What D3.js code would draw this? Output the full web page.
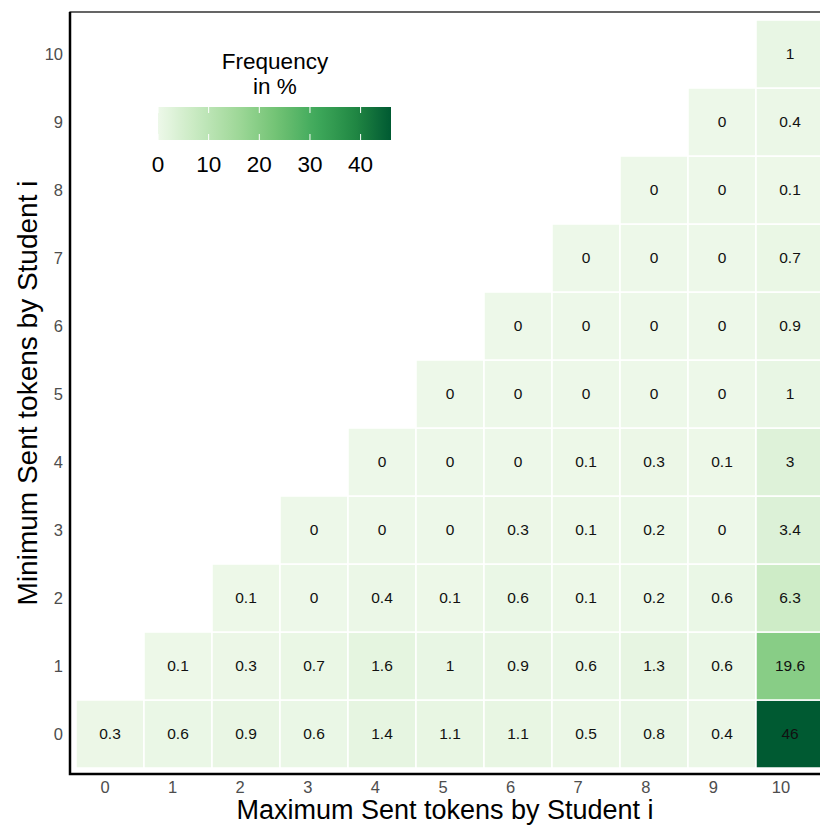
<!DOCTYPE html>
<html>
<head>
<meta charset="utf-8">
<script src="https://cdn.jsdelivr.net/npm/d3@7"></script>
<style>
  body { margin: 0; background: #fff; }
  text { font-family: "Liberation Sans", Arial, sans-serif; }
</style>
</head>
<body>
<div id="my_datavis"></div>
<script>
// data: one row per minimum value, columns start at x = minimum
const tokens = [0, 1, 2, 3, 4, 5, 6, 7, 8, 9, 10];
const row0 = [0.3, 0.6, 0.9, 0.6, 1.4, 1.1, 1.1, 0.5, 0.8, 0.4, 46];
const row1 = [0.1, 0.3, 0.7, 1.6, 1, 0.9, 0.6, 1.3, 0.6, 19.6];
const row2 = [0.1, 0, 0.4, 0.1, 0.6, 0.1, 0.2, 0.6, 6.3];
const row3 = [0, 0, 0, 0.3, 0.1, 0.2, 0, 3.4];
const row4 = [0, 0, 0, 0.1, 0.3, 0.1, 3];
const row5 = [0, 0, 0, 0, 0, 1];
const row6 = [0, 0, 0, 0, 0.9];
const row7 = [0, 0, 0, 0.7];
const row8 = [0, 0, 0.1];
const row9 = [0, 0.4];
const row10 = [1];
const legendTicks = [0, 10, 20, 30, 40];
const greens = ["#edf8e9", "#c7e9c0", "#a1d99b", "#74c476", "#41ab5d", "#238b45", "#005a32"];

const rows = [row0, row1, row2, row3, row4, row5, row6, row7, row8, row9, row10];
const data = [];
rows.forEach((r, yi) => {
  r.forEach((v, j) => data.push({ min: yi, max: yi + j, value: v }));
});

const width = 820;
const height = 825;
const panel = { left: 70, top: 12, right: 832, bottom: 774 };

const svg = d3
  .select("#my_datavis")
  .append("svg")
  .attr("width", width)
  .attr("height", height);

// scales
const xScale = d3
  .scaleBand()
  .domain(tokens)
  .range([panel.left + 6, panel.left + 6 + 68 * 11]);
const yScale = d3
  .scaleBand()
  .domain(tokens)
  .range([panel.bottom - 6, panel.bottom - 6 - 68 * 11]);
const xTickScale = d3.scalePoint().domain(tokens).range([105, 781]);

const maxVal = d3.max(data, (d) => d.value);
const color = d3
  .scaleLinear()
  .domain(greens.map((c, i) => (i / (greens.length - 1)) * maxVal))
  .range(greens)
  .interpolate(d3.interpolateLab);

// tiles
const cells = svg
  .selectAll("g.cell")
  .data(data)
  .enter()
  .append("g")
  .attr("class", "cell")
  .attr("transform", (d) => `translate(${xScale(d.max)}, ${yScale(d.min)})`);

cells
  .append("rect")
  .attr("width", xScale.bandwidth())
  .attr("height", yScale.bandwidth())
  .attr("fill", (d) => color(d.value))
  .attr("stroke", "white")
  .attr("stroke-width", 1.5);

cells
  .append("text")
  .attr("x", xScale.bandwidth() / 2)
  .attr("y", yScale.bandwidth() / 2)
  .attr("dy", "0.35em")
  .attr("text-anchor", "middle")
  .attr("font-size", 15.5)
  .attr("fill", "#111")
  .text((d) => d.value);

// panel border
svg
  .append("rect")
  .attr("x", panel.left)
  .attr("y", panel.top)
  .attr("width", panel.right - panel.left)
  .attr("height", panel.bottom - panel.top)
  .attr("fill", "none")
  .attr("stroke", "black")
  .attr("stroke-width", 1.2);
svg
  .append("path")
  .attr("d", `M${panel.left},${panel.top}V${panel.bottom}H${width}`)
  .attr("fill", "none")
  .attr("stroke", "black")
  .attr("stroke-width", 2.5);

// tick labels
svg
  .selectAll("text.xtick")
  .data(tokens)
  .enter()
  .append("text")
  .attr("class", "xtick")
  .attr("x", (d) => xTickScale(d))
  .attr("y", 793)
  .attr("text-anchor", "middle")
  .attr("font-size", 16.5)
  .attr("fill", "#4d4d4d")
  .text((d) => d);

svg
  .selectAll("text.ytick")
  .data(tokens)
  .enter()
  .append("text")
  .attr("class", "ytick")
  .attr("x", 63)
  .attr("y", (d) => yScale(d) + yScale.bandwidth() / 2)
  .attr("dy", "0.35em")
  .attr("text-anchor", "end")
  .attr("font-size", 16.5)
  .attr("fill", "#4d4d4d")
  .text((d) => d);

// axis titles
svg
  .append("text")
  .attr("x", 445)
  .attr("y", 819)
  .attr("text-anchor", "middle")
  .attr("font-size", 27)
  .attr("fill", "black")
  .text("Maximum Sent tokens by Student i");

svg
  .append("text")
  .attr("transform", "translate(37, 393) rotate(-90)")
  .attr("text-anchor", "middle")
  .attr("font-size", 28)
  .attr("fill", "black")
  .text("Minimum Sent tokens by Student i");

// legend
const legend = svg.append("g").attr("class", "legend");
const barX = 158;
const barY = 107;
const barW = 233;
const barH = 33;
const legendScale = d3.scaleLinear().domain([0, maxVal]).range([barX, barX + barW]);

const grad = svg
  .append("defs")
  .append("linearGradient")
  .attr("id", "freq-grad")
  .attr("x1", "0%")
  .attr("x2", "100%");
d3.range(0, 1.0001, 0.05).forEach((t) => {
  grad
    .append("stop")
    .attr("offset", `${t * 100}%`)
    .attr("stop-color", color(t * maxVal));
});

legend
  .append("rect")
  .attr("x", barX)
  .attr("y", barY)
  .attr("width", barW)
  .attr("height", barH)
  .attr("fill", "url(#freq-grad)");

legendTicks.forEach((t) => {
  const lx = legendScale(t);
  legend
    .append("line")
    .attr("x1", lx).attr("x2", lx)
    .attr("y1", barY).attr("y2", barY + 6)
    .attr("stroke", "white").attr("stroke-width", 1);
  legend
    .append("line")
    .attr("x1", lx).attr("x2", lx)
    .attr("y1", barY + barH - 6).attr("y2", barY + barH)
    .attr("stroke", "white").attr("stroke-width", 1);
});

legend
  .selectAll("text.ltick")
  .data(legendTicks)
  .enter()
  .append("text")
  .attr("class", "ltick")
  .attr("x", (d) => legendScale(d))
  .attr("y", 172)
  .attr("text-anchor", "middle")
  .attr("font-size", 22.5)
  .attr("fill", "black")
  .text((d) => d);

legend
  .append("text")
  .attr("x", 275)
  .attr("y", 69)
  .attr("text-anchor", "middle")
  .attr("font-size", 22.5)
  .attr("fill", "black")
  .text("Frequency");
legend
  .append("text")
  .attr("x", 275)
  .attr("y", 94)
  .attr("text-anchor", "middle")
  .attr("font-size", 22.5)
  .attr("fill", "black")
  .text("in %");
</script>
</body>
</html>
